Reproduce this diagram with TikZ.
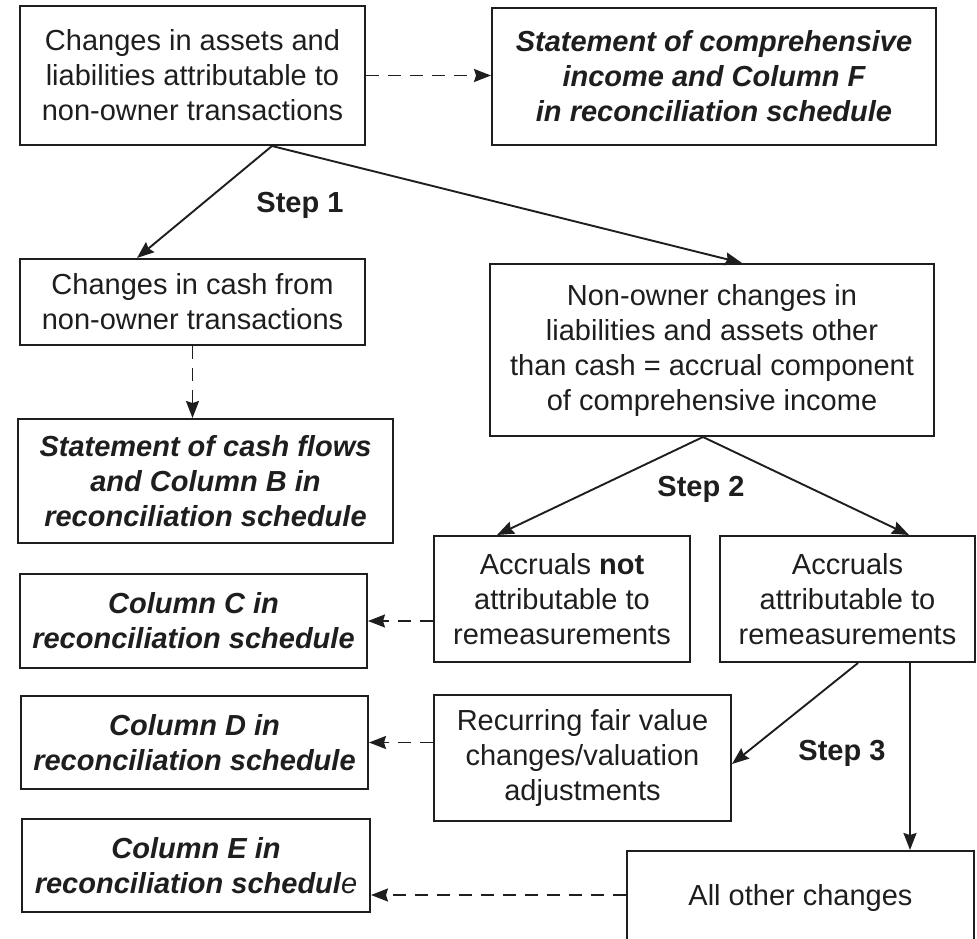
\documentclass[tikz,border=0pt]{standalone}
\usepackage{fontspec}
\setmainfont{Liberation Sans}
\usetikzlibrary{arrows.meta}
\definecolor{ink}{RGB}{30,30,30}
\newcommand\diagfs{\fontsize{29}{35}\selectfont}
\begin{document}
\begin{tikzpicture}[x=1pt,y=-1pt,
  box/.style={draw=ink, line width=2pt, inner sep=0pt, align=center, text=ink, font=\diagfs},
  emphbox/.style={box, font=\diagfs\bfseries\itshape},
  steplabel/.style={text=ink, font=\diagfs\bfseries, inner sep=0pt},
  conn/.style={draw=ink, line width=1.9pt, -{Stealth[length=17pt,width=13pt,inset=2pt]}},
  dconn/.style={conn, dash pattern=on 13pt off 9pt}]
\useasboundingbox (0,0) rectangle (977,939);
\clip (0,0) rectangle (977,939);

\node[box, minimum width=345pt, minimum height=139pt] (n1) at (192.5,75.5)
  {Changes in assets and\\liabilities attributable to\\non-owner transactions};
\node[emphbox, minimum width=444pt, minimum height=137pt] (nF) at (714,76.5)
  {Statement of comprehensive\\income and Column F\\in reconciliation schedule};
\node[box, minimum width=345pt, minimum height=86pt] (ncash) at (192.5,302)
  {Changes in cash from\\non-owner transactions};
\node[emphbox, minimum width=375pt, minimum height=124pt] (nB) at (205.5,481)
  {Statement of cash flows\\and Column B in\\reconciliation schedule};
\node[box, minimum width=444pt, minimum height=172pt] (nacc) at (712,350)
  {Non-owner changes in\\liabilities and assets other\\than cash = accrual component\\of comprehensive income};
\node[box, minimum width=256pt, minimum height=126pt] (nnot) at (562,599)
  {Accruals \textbf{not}\\attributable to\\remeasurements};
\node[box, minimum width=255pt, minimum height=126pt] (nattr) at (847.5,599)
  {Accruals\\attributable to\\remeasurements};
\node[emphbox, minimum width=347pt, minimum height=94pt] (nC) at (193.5,621)
  {Column C in\\reconciliation schedule};
\node[emphbox, minimum width=347pt, minimum height=93pt] (nD) at (194.5,742.5)
  {Column D in\\reconciliation schedule};
\node[box, minimum width=297pt, minimum height=126pt] (nrec) at (582.5,758)
  {Recurring fair value\\changes/valuation\\adjustments};
\node[emphbox, minimum width=348pt, minimum height=93pt] (nE) at (196,865.5)
  {Column E in\\reconciliation schedul{\mdseries e}};
\node[box, minimum width=347pt, minimum height=94pt] (nall) at (800.5,898)
  {All other changes};

\node[steplabel] (s1) at (300,205) {Step 1};
\node[steplabel] (s2) at (701,489) {Step 2};
\node[steplabel] (s3) at (842,753) {Step 3};

\draw[dconn] (n1.east) -- (n1.east -| nF.west);
\draw[conn] ([xshift=79.5pt]n1.south) -- ([xshift=-55.5pt]ncash.north);
\draw[conn] ([xshift=79.5pt]n1.south) -- ([xshift=30pt]nacc.north);
\draw[dconn] (ncash.south) -- (ncash.south |- nB.north);
\draw[conn] ([xshift=-9pt]nacc.south) -- ([xshift=-65pt]nnot.north);
\draw[conn] ([xshift=-9pt]nacc.south) -- ([xshift=61.5pt]nattr.north);
\draw[dconn] (nnot.west |- nC.east) -- (nC.east);
\draw[dconn] (nrec.west |- nD.east) -- (nD.east);
\draw[dconn] ([yshift=3pt]nall.west) -- ([yshift=3pt]nall.west -| nE.east);
\draw[conn] ([xshift=10.5pt]nattr.south) -- ([yshift=-6pt]nrec.east);
\draw[conn] ([xshift=62.5pt]nattr.south) -- ([xshift=62.5pt]nattr.south |- nall.north);
\end{tikzpicture}
\end{document}
